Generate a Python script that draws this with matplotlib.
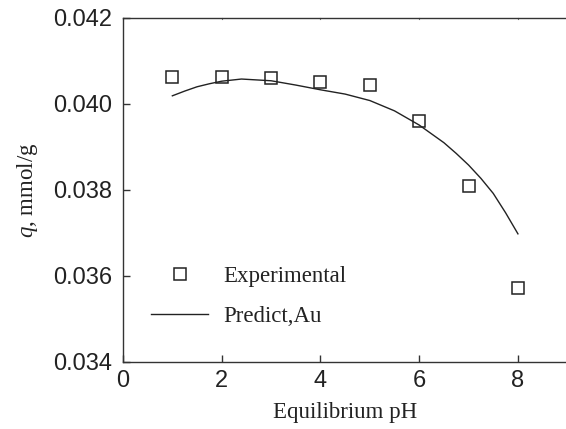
import matplotlib
matplotlib.use("Agg")
import matplotlib.pyplot as plt

plt.rcParams['mathtext.fontset'] = 'custom'
plt.rcParams['mathtext.it'] = 'Liberation Serif:italic'
plt.rcParams['mathtext.rm'] = 'Liberation Serif'

exp_ph = [1, 2, 3, 4, 5, 6, 7, 8]
exp_q = [0.04062, 0.04062, 0.04060, 0.04052, 0.04045, 0.03961, 0.03810, 0.03573]

pred_ph = [1, 1.25, 1.5, 1.75, 2, 2.4, 3, 3.5, 4, 4.5, 5, 5.5, 6, 6.5, 6.75, 7, 7.25, 7.5, 7.75, 8]
pred_q = [0.04019, 0.04030, 0.04040, 0.04047, 0.04053, 0.04058, 0.04054, 0.04044, 0.04033,
          0.04023, 0.04008, 0.03984, 0.03951, 0.03910, 0.03885, 0.03858, 0.03827,
          0.03792, 0.03747, 0.03698]

xticks = [0, 2, 4, 6, 8]
yticks = [0.034, 0.036, 0.038, 0.040, 0.042]

fig = plt.figure(figsize=(5.66, 4.29), dpi=100)
ax = fig.add_axes([0.2173, 0.1562, 0.785, 0.8019])

ax.plot(exp_ph, exp_q, linestyle='none', marker='s', markersize=8.3,
        markerfacecolor='white', markeredgecolor='#222222', markeredgewidth=1.1,
        label='Experimental')
ax.plot(pred_ph, pred_q, color='#222222', linewidth=1.0, label='Predict,Au')

ax.set_xlim(0, 9)
ax.set_ylim(0.034, 0.042)
ax.set_xticks(xticks)
ax.set_yticks(yticks)
ax.set_xticklabels([str(v) for v in xticks])
ax.set_yticklabels([f"{v:.3f}" for v in yticks])

for s in ax.spines.values():
    s.set_color('#333333')
    s.set_linewidth(1.0)

ax.tick_params(axis='both', direction='in', length=5, width=1.0, color='#333333',
               labelsize=17, labelcolor='#222222', labelfontfamily='Liberation Sans')
ax.tick_params(axis='x', pad=6)
ax.tick_params(axis='y', pad=8)
# tiny marks on the top spine
for xv in xticks:
    ax.plot([xv, xv], [0.042, 0.042 - 0.00003], color='#777777', linewidth=0.8,
            clip_on=False)

ax.set_xlabel('Equilibrium pH', fontsize=16.5, family='Liberation Serif',
              color='#222222', labelpad=7)
ax.set_ylabel('$q$, mmol/g', fontsize=16.5, family='Liberation Serif',
              color='#222222', labelpad=9)

leg = ax.legend(loc='center left', bbox_to_anchor=(0.063, 0.19), frameon=False,
                prop={'family': 'Liberation Serif', 'size': 16.5},
                handlelength=2.5, handletextpad=0.65, labelspacing=0.82,
                borderpad=0, borderaxespad=0)
for t in leg.get_texts():
    t.set_color('#222222')

fig.savefig('out.png', dpi=100)
